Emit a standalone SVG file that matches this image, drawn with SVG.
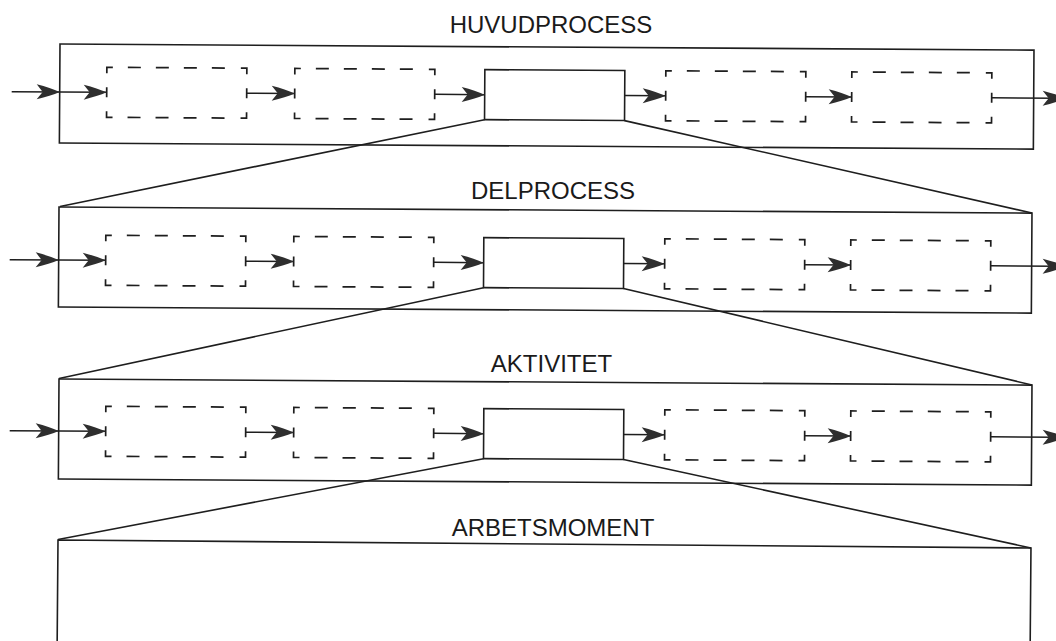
<svg xmlns="http://www.w3.org/2000/svg" xmlns:xlink="http://www.w3.org/1999/xlink" width="1056" height="641" viewBox="0 0 1056 641">
<style>
.frame{fill:none;stroke:#1e1e1e;stroke-width:1.6}
.solid{fill:#fff;stroke:#1e1e1e;stroke-width:1.6}
.dash{fill:none;stroke:#1e1e1e;stroke-width:1.7}
.arr{fill:none;stroke:#1e1e1e;stroke-width:1.5;marker-end:url(#ah)}
.zl{fill:none;stroke:#1e1e1e;stroke-width:1.6}
.title{font-family:"Liberation Sans",Arial,sans-serif;font-size:24px;fill:#1a1a1a;text-anchor:middle}
</style>
<defs>
<marker id="ah" markerUnits="userSpaceOnUse" markerWidth="24" markerHeight="16" refX="0" refY="0" orient="auto" overflow="visible">
<path d="M0,0 Q-9,-4 -23,-7.5 L-17,0 L-23,7.5 Q-9,4 0,0 Z" fill="#2e2e2e"/>
</marker>
<path id="db" class="dash" d="M0,6 V0 H6 M134,0 H140 V6 M0,44 V50 H6 M134,50 H140 V44 M21,0 H34 M49,0 H62 M77,0 H90 M105,0 H118 M21,50 H34 M49,50 H62 M77,50 H90 M105,50 H118 M0,20 V30 M140,20 V30"/>
</defs>
<rect width="1056" height="641" fill="#fff"/>

<!-- Panel 1 -->
<g id="huvudprocess">
<text class="title" x="551" y="33">HUVUDPROCESS</text>
<g transform="translate(60,44) rotate(0.36)">
<rect class="frame" x="0" y="0" width="974" height="99"/>
<use id="p1-d1" xlink:href="#db" x="47" y="23"/>
<use id="p1-d2" xlink:href="#db" x="235" y="23"/>
<rect id="p1-main" class="solid" x="425" y="23" width="140" height="50"/>
<use id="p1-d3" xlink:href="#db" x="606" y="23"/>
<use id="p1-d4" xlink:href="#db" x="792" y="23"/>
</g>
</g>

<!-- Panel 2 -->
<g id="delprocess">
<text class="title" x="553" y="199">DELPROCESS</text>
<g transform="translate(59,207) rotate(0.36)">
<rect class="frame" x="0" y="0" width="973" height="100"/>
<use id="p2-d1" xlink:href="#db" x="47" y="28"/>
<use id="p2-d2" xlink:href="#db" x="235" y="28"/>
<rect id="p2-main" class="solid" x="425" y="28" width="140" height="50"/>
<use id="p2-d3" xlink:href="#db" x="606" y="28"/>
<use id="p2-d4" xlink:href="#db" x="792" y="28"/>
</g>
</g>

<!-- Panel 3 -->
<g id="aktivitet">
<text class="title" x="551.5" y="372">AKTIVITET</text>
<g transform="translate(59,379) rotate(0.36)">
<rect class="frame" x="0" y="0" width="973" height="100"/>
<use id="p3-d1" xlink:href="#db" x="47" y="27"/>
<use id="p3-d2" xlink:href="#db" x="235" y="27"/>
<rect id="p3-main" class="solid" x="425" y="27" width="140" height="50"/>
<use id="p3-d3" xlink:href="#db" x="606" y="27"/>
<use id="p3-d4" xlink:href="#db" x="792" y="27"/>
</g>
</g>

<!-- Panel 4 -->
<g id="arbetsmoment">
<text class="title" x="553" y="536">ARBETSMOMENT</text>
<g transform="translate(58,540) rotate(0.47)">
<path class="frame" d="M0,130 V0 H973 V130"/>
</g>
</g>

<g id="connectors">
<g transform="translate(60,44) rotate(0.36)">
<path class="arr" d="M-48,48 H0"/>
<path class="arr" d="M0,48 H47"/>
<path class="arr" d="M187,48 H235"/>
<path class="arr" d="M375,48 H425"/>
<path class="arr" d="M565,48 H606"/>
<path class="arr" d="M746,48 H792"/>
<path class="arr" d="M932,48 H1006"/>
</g>
<g transform="translate(59,207) rotate(0.36)">
<path class="arr" d="M-49,53 H0"/>
<path class="arr" d="M0,53 H47"/>
<path class="arr" d="M187,53 H235"/>
<path class="arr" d="M375,53 H425"/>
<path class="arr" d="M565,53 H606"/>
<path class="arr" d="M746,53 H792"/>
<path class="arr" d="M932,53 H1007"/>
</g>
<g transform="translate(59,379) rotate(0.36)">
<path class="arr" d="M-49,52 H0"/>
<path class="arr" d="M0,52 H47"/>
<path class="arr" d="M187,52 H235"/>
<path class="arr" d="M375,52 H425"/>
<path class="arr" d="M565,52 H606"/>
<path class="arr" d="M746,52 H792"/>
<path class="arr" d="M932,52 H1007"/>
</g>
<path class="zl" d="M484.5,119.7 L60,206.5"/>
<path class="zl" d="M624.5,120.6 L1032,213"/>
<path class="zl" d="M483.5,287.7 L59,378.5"/>
<path class="zl" d="M623.5,288.5 L1032,385"/>
<path class="zl" d="M483.5,458.7 L58,539.5"/>
<path class="zl" d="M623.5,459.5 L1031,548"/>
</g>
</svg>
